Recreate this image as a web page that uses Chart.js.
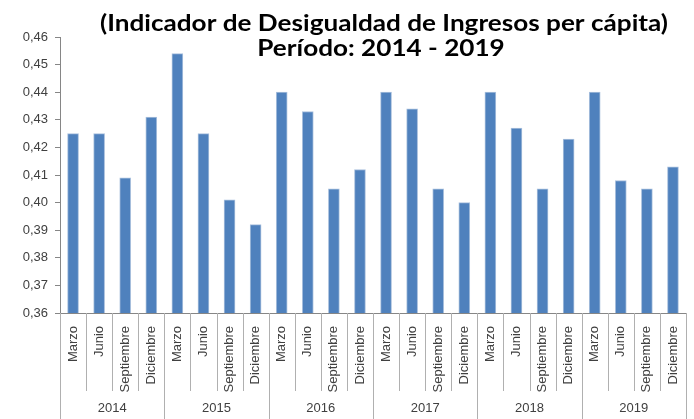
<!DOCTYPE html>
<html>
<head>
<meta charset="utf-8">
<script src="https://cdn.jsdelivr.net/npm/chart.js@4/dist/chart.umd.min.js"></script>
<style>
  html, body { margin: 0; padding: 0; background: #fff; }
  #wrap { width: 694px; height: 419px; position: relative; }
</style>
</head>
<body>
<div id="wrap"><canvas id="chart"></canvas></div>
<script>
// ===== Data =====
const years = ['2014', '2015', '2016', '2017', '2018', '2019'];
const months = ['Marzo', 'Junio', 'Septiembre', 'Diciembre'];
const gini = [
  0.425, 0.425, 0.409, 0.431,
  0.454, 0.425, 0.401, 0.392,
  0.440, 0.433, 0.405, 0.412,
  0.440, 0.434, 0.405, 0.400,
  0.440, 0.427, 0.405, 0.423,
  0.440, 0.408, 0.405, 0.413
];
const yTicks = [0.36, 0.37, 0.38, 0.39, 0.40, 0.41, 0.42, 0.43, 0.44, 0.45, 0.46];
const titleLines = ['(Indicador de Desigualdad de Ingresos per cápita)', 'Período: 2014 - 2019'];

const labels = years.flatMap(() => months);

// ===== Plugins =====
// category separators + year row under the month labels
const yearRows = {
  id: 'yearRows',
  afterDraw(chart) {
    const { ctx, scales: { x } } = chart;
    const n = labels.length;
    const bottom = chart.height;
    ctx.save();
    ctx.strokeStyle = '#b0b0b0';
    ctx.lineWidth = 1;
    for (let i = 0; i <= n; i++) {
      let px;
      if (i === 0) px = x.left;
      else if (i === n) px = x.right;
      else px = (x.getPixelForValue(i - 1) + x.getPixelForValue(i)) / 2;
      px = Math.round(px) + 0.5;
      const end = i % months.length === 0 ? bottom : x.top + 78;
      ctx.beginPath();
      ctx.moveTo(px, x.top);
      ctx.lineTo(px, end);
      ctx.stroke();
    }
    ctx.fillStyle = '#404040';
    ctx.font = '13px "Liberation Sans", Arial, sans-serif';
    ctx.textAlign = 'center';
    ctx.textBaseline = 'middle';
    years.forEach((yr, k) => {
      const a = x.getPixelForValue(k * months.length);
      const b = x.getPixelForValue(k * months.length + months.length - 1);
      ctx.fillText(yr, (a + b) / 2, 408);
    });
    ctx.restore();
  }
};

// title drawn over the plot, like the original
const overTitle = {
  id: 'overTitle',
  afterDraw(chart) {
    const { ctx } = chart;
    ctx.save();
    ctx.fillStyle = '#000';
    ctx.font = 'bold 23px Lato, "Open Sans", sans-serif';
    ctx.textBaseline = 'alphabetic';
    ctx.textAlign = 'center';
    const sx = 568 / ctx.measureText(titleLines[0]).width;
    const pos = [[384, 31], [381, 56]];
    titleLines.forEach((t, i) => {
      ctx.save();
      ctx.translate(pos[i][0], pos[i][1]);
      ctx.scale(sx, 1);
      ctx.fillText(t, 0, 0);
      ctx.restore();
    });
    ctx.restore();
  }
};

// ===== Chart =====
new Chart(document.getElementById('chart'), {
  type: 'bar',
  data: {
    labels,
    datasets: [{
      data: gini,
      backgroundColor: '#4F81BD',
      borderColor: '#a9c0dd',
      borderWidth: 1,
      barThickness: 11
    }]
  },
  options: {
    responsive: true,
    maintainAspectRatio: false,
    animation: false,
    layout: { padding: { top: 37, right: 8, left: 0, bottom: 0 } },
    plugins: {
      legend: { display: false },
      tooltip: { enabled: false }
    },
    scales: {
      x: {
        afterFit(scale) { scale.height = 106; },
        grid: { display: false },
        border: { display: true, color: '#868686', width: 1 },
        ticks: {
          autoSkip: false,
          maxRotation: 90,
          minRotation: 90,
          padding: 5,
          color: '#404040',
          font: { family: '"Liberation Sans", Arial, sans-serif', size: 13 }
        }
      },
      y: {
        min: yTicks[0],
        max: yTicks[yTicks.length - 1],
        afterFit(scale) { scale.width = 60; },
        afterBuildTicks(scale) { scale.ticks = yTicks.map(v => ({ value: v })); },
        grid: { drawOnChartArea: false, drawTicks: true, tickLength: 5, color: '#868686' },
        border: { display: true, color: '#868686', width: 1 },
        ticks: {
          padding: 7,
          color: '#404040',
          font: { family: '"Liberation Sans", Arial, sans-serif', size: 13 },
          callback: v => v.toFixed(2).replace('.', ',')
        }
      }
    }
  },
  plugins: [yearRows, overTitle]
});
</script>
</body>
</html>
